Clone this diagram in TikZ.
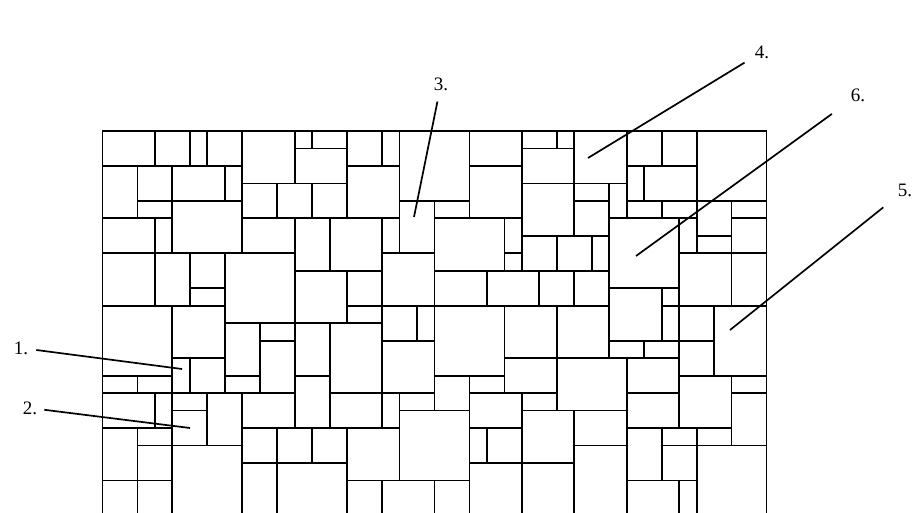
\documentclass[tikz,border=0pt]{standalone}
\usepackage{fontspec}
\setmainfont{Liberation Serif}
\begin{document}
\begin{tikzpicture}[x=1pt,y=-1pt,
  tile/.style={draw=black,line width=1.8pt},
  lead/.style={draw=black,line width=1.7pt},
  tag/.style={font=\fontsize{19}{21}\selectfont,inner sep=5pt}]
\useasboundingbox (0,0) rectangle (914,513);
\begin{scope}
  \clip (0,0) rectangle (914,513);
  \begin{scope}[shift={(102.5,131)},x=17.474pt,y=-17.474pt]
    % paving slabs: left/right column, top/bottom row in grid units
    \foreach \a/\b/\c/\d in {
      0/3/0/2, 3/5/0/2, 5/6/0/2, 6/8/0/2, 8/11/0/3, 11/12/0/1, 12/14/0/1, 11/14/1/3,
      14/16/0/2, 16/17/0/2, 17/21/0/4, 21/24/0/2, 24/26/0/1, 26/27/0/1, 24/27/1/3,
      27/30/0/3, 30/32/0/2, 32/34/0/2, 34/38/0/4,
      0/2/2/5, 2/4/2/4, 2/4/4/5, 4/7/2/4, 7/8/2/4, 4/8/4/7, 0/3/5/7, 3/4/5/7,
      8/10/3/5, 10/12/3/5, 12/14/3/5, 14/17/2/5, 21/24/2/5, 24/27/3/6, 27/29/3/4,
      27/29/4/6, 30/31/2/4, 31/34/2/4, 29/30/3/5, 30/32/4/5, 32/34/4/5, 34/36/4/6,
      34/36/6/7, 36/38/4/5, 36/38/5/7, 29/33/5/9, 33/34/5/7, 17/19/4/7, 19/21/4/5,
      19/23/5/8, 23/24/5/7, 23/24/7/8, 24/26/6/8, 26/28/6/8, 28/29/6/8, 8/11/5/7,
      11/13/5/8, 13/16/5/8, 16/17/5/7, 16/19/7/10,
      0/3/7/10, 3/5/7/10, 5/7/7/9, 5/7/9/10, 7/11/7/11, 0/4/10/14, 4/7/10/13,
      7/9/11/14, 9/11/11/12, 9/11/12/15, 11/14/8/11, 14/16/8/10, 14/16/10/11,
      16/18/10/12, 18/19/10/12, 11/13/11/14, 13/16/11/15, 16/19/12/15, 19/22/8/10,
      22/25/8/10, 25/27/8/10, 27/29/8/10, 19/23/10/14, 23/26/10/13, 26/29/10/13,
      33/36/7/10, 36/38/7/10, 29/32/9/12, 32/33/9/10, 32/33/10/12, 29/31/12/13,
      31/33/12/13, 33/35/10/12, 33/35/12/14, 35/38/10/14,
      0/2/14/15, 2/4/14/15, 4/5/13/15, 5/7/13/15, 7/9/14/15, 0/3/15/17, 3/4/15/17,
      4/6/15/16, 4/6/16/18, 6/8/15/18, 8/11/15/17, 0/2/17/20, 2/4/17/18, 2/4/18/20,
      4/8/18/22, 8/10/17/19, 10/12/17/19, 12/14/17/19, 10/14/19/22, 11/13/14/17,
      13/16/15/17, 16/17/15/17, 17/19/15/16, 14/17/17/20, 17/21/16/20, 19/21/14/16,
      21/23/14/15, 23/26/13/15, 26/30/13/16, 21/24/15/17, 24/26/15/16, 21/22/17/19,
      22/24/17/19, 24/27/16/19, 27/30/16/18, 30/33/13/15, 33/36/14/17, 36/38/14/15,
      36/38/15/18, 30/33/15/17, 30/32/17/20, 32/34/17/18, 34/36/17/18, 32/34/18/20,
      34/38/18/22, 27/30/18/22, 8/10/19/22, 21/24/19/22, 24/27/19/22,
      0/2/20/22, 2/4/20/22, 14/16/20/22, 16/19/20/22, 19/21/20/22, 30/33/20/22,
      33/34/20/22}
      \draw[tile] (\a,\c) rectangle (\b,\d);
  \end{scope}
\end{scope}
\node[tag] (one) at (21,348) {1.};
\node[tag] (two) at (30,408) {2.};
\node[tag] (three) at (441,84) {3.};
\node[tag] (four) at (762,52) {4.};
\node[tag] (six) at (858,95) {6.};
\node[tag] (five) at (905,190) {5.};
\coordinate (p1) at (182,369);
\coordinate (p2) at (190,428);
\coordinate (p3) at (414,217);
\coordinate (p4) at (588,158);
\coordinate (p6) at (636,256);
\coordinate (p5) at (730,330);
\draw[lead,shorten <=3pt] (one) -- (p1);
\draw[lead,shorten <=2pt] (two) -- (p2);
\draw[lead,shorten <=6pt] (three) -- (p3);
\draw[lead,shorten <=6pt] (four) -- (p4);
\draw[lead,shorten <=17pt] (six) -- (p6);
\draw[lead,shorten <=12pt] (five) -- (p5);
\end{tikzpicture}
\end{document}
